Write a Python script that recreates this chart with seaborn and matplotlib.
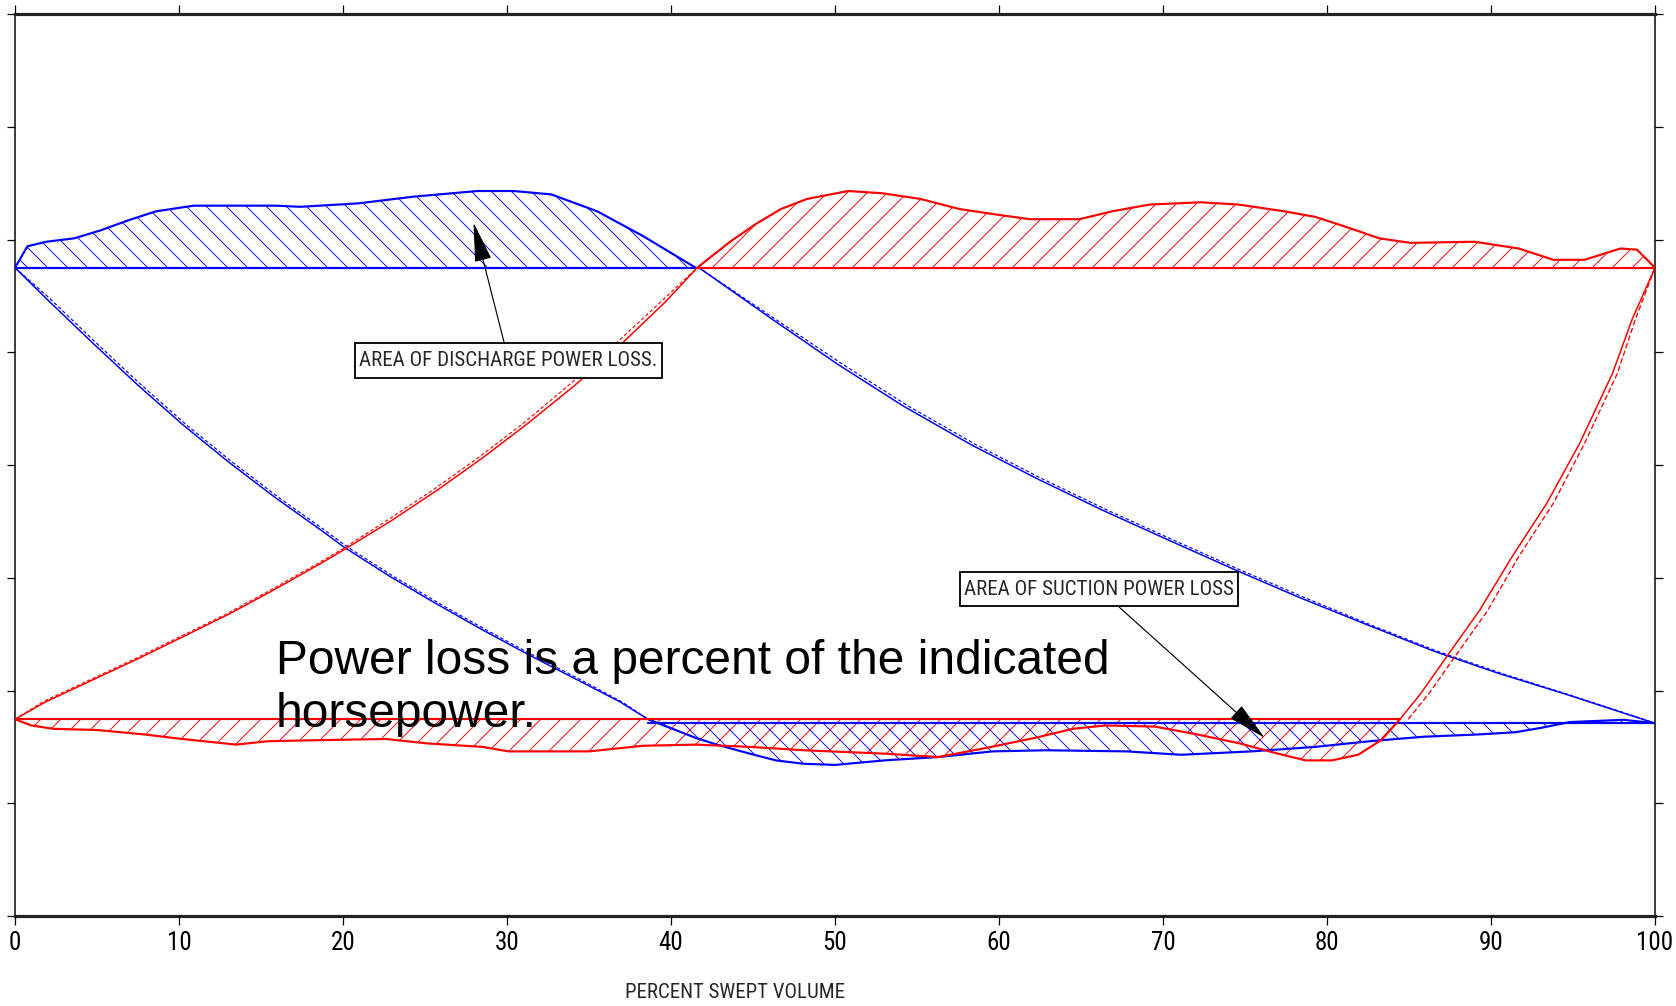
import numpy as np
import pandas as pd
import matplotlib
matplotlib.use("Agg")
import matplotlib.pyplot as plt
from matplotlib import font_manager as fm
import seaborn as sns

# ---------------- data (percent swept volume vs. pressure, arbitrary units) ----
discharge_level = 5.75
suction_level_red = 1.745
suction_level_blue = 1.71

# blue: discharge loss curve (above discharge line)
blue_dis_x = [0, 0.76, 1.9, 3.6, 5.2, 6.9, 8.6, 10.9, 15.9, 17.4, 20.9, 24.3, 28.2, 30.4, 32.7, 35.5, 38.3, 41.5]
blue_dis_y = [5.75, 5.94, 5.98, 6.01, 6.08, 6.17, 6.25, 6.30, 6.30, 6.29, 6.32, 6.38, 6.43, 6.43, 6.40, 6.25, 6.03, 5.75]

# blue: re-expansion curve (0 -> 38.6)
blue_exp_x = [0, 1.88, 4.68, 7.48, 10.29, 13.08, 15.88, 18.68, 20.08, 22.88, 25.68, 28.48, 31.28, 34.08, 36.88, 38.6]
blue_exp_y = [5.75, 5.48, 5.09, 4.71, 4.35, 4.02, 3.71, 3.42, 3.27, 3.01, 2.77, 2.54, 2.32, 2.11, 1.90, 1.745]
blue_exp_th_x = [0, 2.1, 4.9, 7.7, 10.5, 13.3, 16.1, 18.9, 20.3, 23.1, 25.9, 28.7, 31.5, 34.3, 37.0, 38.6]

# blue: suction loss curve (below suction line)
blue_suc_x = [38.6, 41.5, 42.8, 44.8, 46.4, 48.1, 50.0, 53.0, 56.3, 59.6, 62.9, 67.8, 71.1, 75.4, 79.3, 82.6, 85.9, 89.2, 91.5, 93.1, 94.8, 98.1, 100]
blue_suc_y = [1.745, 1.58, 1.52, 1.44, 1.38, 1.35, 1.34, 1.38, 1.41, 1.46, 1.47, 1.46, 1.43, 1.46, 1.50, 1.55, 1.59, 1.61, 1.63, 1.67, 1.72, 1.74, 1.71]

# blue: compression curve (41.7 -> 100)
blue_cmp_x = [41.7, 46.2, 50.2, 54.2, 58.3, 62.3, 66.3, 70.4, 74.4, 78.4, 82.5, 86.5, 90.5, 94.5, 98.5, 100]
blue_cmp_y = [5.75, 5.29, 4.89, 4.52, 4.18, 3.88, 3.60, 3.33, 3.07, 2.82, 2.58, 2.35, 2.15, 1.97, 1.78, 1.71]
blue_cmp_th_x = [41.7, 46.4, 50.5, 54.5, 58.6, 62.6, 66.6, 70.7, 74.7, 78.7, 82.7, 86.7, 90.7, 94.6, 98.6, 100]

# red: compression curve (0 -> 41.6)
red_cmp_x = [0, 1.88, 4.68, 7.48, 10.29, 13.08, 15.88, 18.68, 20.08, 22.88, 25.68, 28.48, 31.28, 34.08, 36.88, 39.68, 41.6]
red_cmp_y = [1.745, 1.90, 2.09, 2.28, 2.48, 2.68, 2.90, 3.13, 3.25, 3.50, 3.77, 4.06, 4.37, 4.70, 5.06, 5.45, 5.75]
red_cmp_th_x = [0, 1.7, 4.5, 7.3, 10.1, 12.9, 15.7, 18.5, 19.9, 22.6, 25.4, 28.2, 31.0, 33.7, 36.5, 39.4, 41.6]

# red: discharge loss curve (above discharge line)
red_dis_x = [41.6, 43.6, 45.2, 46.7, 48.3, 50.8, 52.9, 55.2, 57.6, 59.9, 61.9, 64.9, 66.9, 69.2, 72.3, 74.6, 77.4, 79.3, 81.2, 83.2, 85.1, 89.0, 91.7, 93.8, 95.7, 97.9, 98.9, 100]
red_dis_y = [5.75, 5.98, 6.14, 6.27, 6.36, 6.43, 6.41, 6.36, 6.27, 6.22, 6.18, 6.18, 6.25, 6.31, 6.33, 6.31, 6.25, 6.20, 6.11, 6.01, 5.97, 5.98, 5.92, 5.82, 5.82, 5.92, 5.91, 5.75]

# red: suction loss curve (below suction line)
red_suc_x = [0, 1.0, 2.35, 4.96, 7.9, 10.2, 13.5, 15.4, 18.7, 22.6, 25.2, 28.5, 30.1, 35.0, 38.3, 41.5, 44.8, 48.1, 53.0, 56.3, 59.2, 62.2, 64.5, 66.5, 69.5, 72.1, 74.7, 77.0, 78.7, 80.3, 81.9, 83.3, 84.45]
red_suc_y = [1.745, 1.69, 1.66, 1.65, 1.61, 1.57, 1.52, 1.55, 1.56, 1.57, 1.53, 1.50, 1.46, 1.46, 1.51, 1.52, 1.50, 1.47, 1.44, 1.41, 1.49, 1.58, 1.66, 1.69, 1.68, 1.61, 1.53, 1.44, 1.38, 1.38, 1.43, 1.56, 1.745]

# red: re-expansion curve (84.45 -> 100)
red_exp_x = [84.45, 85.7, 87.3, 89.3, 91.3, 93.4, 95.4, 97.4, 98.6, 100]
red_exp_y = [1.745, 1.97, 2.30, 2.71, 3.19, 3.66, 4.19, 4.81, 5.29, 5.75]
red_exp_th_x = [84.95, 86.2, 87.8, 89.8, 91.7, 93.8, 95.7, 97.7, 98.8, 100]

x_ticks = [0, 10, 20, 30, 40, 50, 60, 70, 80, 90, 100]
y_ticks = [0, 1, 2, 3, 4, 5, 6, 7, 8]

label_discharge = "AREA OF DISCHARGE POWER LOSS."
label_suction = "AREA OF SUCTION POWER LOSS"
note_text = "Power loss is a percent of the indicated\nhorsepower."
x_label = "PERCENT SWEPT VOLUME"

# ---------------- styling ----------------
sns.set_style("white")
plt.rcParams["font.family"] = ["Liberation Sans", "DejaVu Sans"]
plt.rcParams["hatch.linewidth"] = 0.55


def narrow_props():
    names = {f.name for f in fm.fontManager.ttflist}
    for n in ["Liberation Sans Narrow", "Arial Narrow", "Roboto Condensed",
              "Open Sans Condensed", "Noto Sans Condensed"]:
        if n in names:
            return fm.FontProperties(family=n), True
    for f in fm.fontManager.ttflist:
        low = f.name.lower()
        if ("narrow" in low or "condensed" in low) and "mono" not in low and "serif" not in low:
            return fm.FontProperties(family=f.name), True
    for f in fm.fontManager.ttflist:
        low = f.name.lower()
        if f.stretch in ("condensed", "semi-condensed", "extra-condensed") and \
                "mono" not in low and "serif" not in low:
            return fm.FontProperties(family=f.name, stretch=f.stretch), True
    return fm.FontProperties(family="Liberation Sans"), False


NARROW, HAVE_NARROW = narrow_props()

DPI = 120
fig = plt.figure(figsize=(1676 / DPI, 1006 / DPI), dpi=DPI)
ax = fig.add_axes([15 / 1676, 90 / 1006, 1640 / 1676, 902 / 1006])

BLUE = "#0000ff"
RED = "#ff0000"
LW = 0.9
LWB = 1.3


def hatch_area(x, y, base, color, hatch):
    ax.fill_between(x, y, base, facecolor="none", edgecolor=color,
                    hatch=hatch, linewidth=0, zorder=1)


hatch_area(blue_dis_x, blue_dis_y, discharge_level, BLUE, "\\\\")
hatch_area(red_dis_x, red_dis_y, discharge_level, RED, "//")
hatch_area(red_suc_x, red_suc_y, suction_level_red, RED, "//")
hatch_area(blue_suc_x, blue_suc_y, suction_level_blue, BLUE, "\\\\")


def line(x, y, color, ls="-", lw=LW):
    df = pd.DataFrame({"x": x, "y": y})
    sns.lineplot(data=df, x="x", y="y", color=color, linestyle=ls,
                 linewidth=lw, ax=ax, estimator=None, sort=False, zorder=3)


# blue curves
line(blue_dis_x, blue_dis_y, BLUE, lw=LWB)
line(blue_exp_x, blue_exp_y, BLUE)
line(blue_exp_th_x, blue_exp_y, BLUE, ls=(0, (3, 2)), lw=0.7)
line(blue_suc_x, blue_suc_y, BLUE, lw=LWB)
line(blue_cmp_x, blue_cmp_y, BLUE)
line(blue_cmp_th_x, blue_cmp_y, BLUE, ls=(0, (3, 2)), lw=0.7)
line([0, 41.6], [discharge_level, discharge_level], BLUE, lw=LWB)
line([38.6, 100], [suction_level_blue, suction_level_blue], BLUE, lw=LWB)

# red curves
line(red_cmp_x, red_cmp_y, RED)
line(red_cmp_th_x, red_cmp_y, RED, ls=(0, (3, 2)), lw=0.7)
line(red_dis_x, red_dis_y, RED, lw=LWB)
line(red_suc_x, red_suc_y, RED, lw=LWB)
line(red_exp_x, red_exp_y, RED)
line(red_exp_th_x, red_exp_y, RED, ls=(0, (4, 2)), lw=0.8)
line([41.6, 100], [discharge_level, discharge_level], RED, lw=LWB)
line([0, 84.45], [suction_level_red, suction_level_red], RED, lw=LWB)

# axes
ax.set_xlim(0, 100)
ax.set_ylim(0, 8)
ax.set_xticks(x_ticks)
ax.set_xticklabels([str(t) for t in x_ticks])
ax.set_yticks(y_ticks)
ax.set_yticklabels([])
ax.tick_params(axis="x", which="both", bottom=True, top=True, direction="out",
               length=5.5, width=0.75, pad=3.5, colors="black")
ax.tick_params(axis="y", which="both", left=True, right=True, direction="out",
               length=5.0, width=0.75, colors="black")
for t in ax.get_xticklabels():
    t.set_fontproperties(NARROW)
    t.set_fontsize(15 if HAVE_NARROW else 11)
ax.set_xlabel(x_label, fontproperties=NARROW)
ax.xaxis.label.set_fontsize(12.5 if HAVE_NARROW else 10)
ax.xaxis.label.set_va("center")
ax.xaxis.set_label_coords(0.439, -0.0843)
ax.set_ylabel("")
for side in ["top", "bottom"]:
    ax.spines[side].set_linewidth(1.9)
    ax.spines[side].set_color("#222222")
for side in ["left", "right"]:
    ax.spines[side].set_linewidth(0.9)
    ax.spines[side].set_color("black")
ax.grid(False)

# annotations
arrow = dict(arrowstyle="-|>,head_length=1.4,head_width=0.3", color="black",
             lw=0.7, mutation_scale=15, shrinkA=0, shrinkB=0)
box = dict(boxstyle="square,pad=0.2", mutation_aspect=1.9,
           fc="white", ec="black", lw=1.1)
ann1 = ax.annotate(label_discharge, xy=(27.96, 6.15), xytext=(30.1, 4.93),
                   ha="center", va="center", fontproperties=NARROW,
                   bbox=box, arrowprops=arrow, zorder=5)
ann2 = ax.annotate(label_suction, xy=(76.2, 1.58), xytext=(66.1, 2.90),
                   ha="center", va="center", fontproperties=NARROW,
                   bbox=box, arrowprops=arrow, zorder=5)

# fit annotation text width to the reference box widths (pixels)
for ann in (ann1, ann2):
    ann.set_fontsize(15)
fig.canvas.draw()
r = fig.canvas.get_renderer()
for ann, target_px in [(ann1, 298), (ann2, 272)]:
    w = ann.get_window_extent(r).width
    ann.set_fontsize(15 * target_px / w)

ax.text(15.9, 1.676, note_text, ha="left", va="baseline", fontsize=28.75,
        family=["Liberation Sans", "DejaVu Sans"], color="black",
        linespacing=1.22, zorder=6)

fig.savefig("out.png", dpi=DPI)
